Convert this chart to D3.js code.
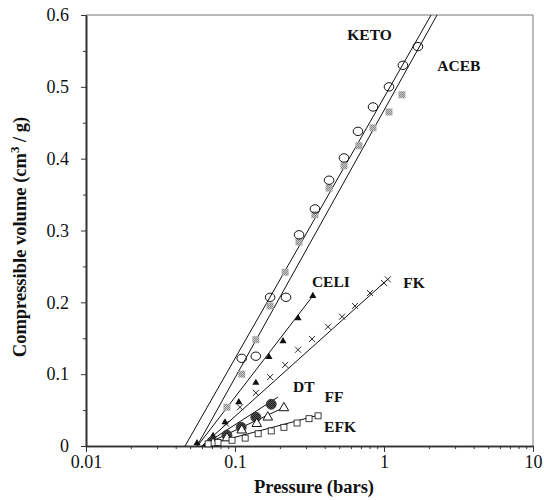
<!DOCTYPE html>
<html>
<head>
<meta charset="utf-8">
<script src="https://cdn.jsdelivr.net/npm/d3@7"></script>
<style>
  body { margin: 0; background: #fff; }
  svg text { font-family: "Liberation Serif", "Times New Roman", serif; fill: #111; }
  .tick-label { font-size: 18px; }
  .series-label { font-size: 15.5px; font-weight: bold; }
  .axis-title { font-size: 18.5px; font-weight: bold; }
</style>
</head>
<body>
<div id="chart"></div>
<script>
// measured points: pressure (bars) and compressible volume (cm3/g)
var ketoP = [0.111, 0.138, 0.172, 0.220, 0.269, 0.344, 0.428, 0.539, 0.669, 0.844, 1.08, 1.34, 1.69];
var ketoV = [0.122, 0.125, 0.207, 0.207, 0.294, 0.330, 0.370, 0.401, 0.438, 0.472, 0.500, 0.530, 0.556];

var acebP = [0.0883, 0.111, 0.138, 0.172, 0.217, 0.269, 0.344, 0.428, 0.539, 0.679, 0.844, 1.08, 1.32];
var acebV = [0.054, 0.100, 0.148, 0.195, 0.242, 0.284, 0.322, 0.359, 0.390, 0.418, 0.443, 0.465, 0.489];

var celiP = [0.0556, 0.0712, 0.0857, 0.106, 0.138, 0.169, 0.210, 0.265, 0.333];
var celiV = [0.004, 0.014, 0.033, 0.061, 0.088, 0.124, 0.146, 0.178, 0.209];

var fkP = [0.069, 0.0871, 0.108, 0.138, 0.172, 0.217, 0.265, 0.329, 0.421, 0.523, 0.639, 0.805, 1.0, 1.06];
var fkV = [0.007, 0.031, 0.054, 0.074, 0.096, 0.113, 0.134, 0.149, 0.166, 0.180, 0.195, 0.213, 0.227, 0.232];

var dtP = [0.0701, 0.0883, 0.110, 0.138, 0.175];
var dtV = [0.006, 0.015, 0.026, 0.040, 0.058];

var ffP = [0.0712, 0.0883, 0.111, 0.140, 0.166, 0.213];
var ffV = [0.004, 0.011, 0.022, 0.031, 0.040, 0.053];

var efkP = [0.066, 0.0769, 0.0955, 0.117, 0.143, 0.175, 0.213, 0.261, 0.314, 0.361];
var efkV = [0.003, 0.005, 0.008, 0.011, 0.017, 0.021, 0.026, 0.032, 0.038, 0.042];

// fitted lines: [start pressure, start volume, end pressure, end volume]
var ketoFit = [0.0462, 0, 2.07, 0.6];
var acebFit = [0.0556, 0, 2.27, 0.6];
var celiFit = [0.056, 0, 0.333, 0.209];
var fkFit   = [0.060, 0, 1.06, 0.232];
var dtFit   = [0.060, 0, 0.194, 0.068];
var ffFit   = [0.060, 0, 0.22, 0.055];
var efkFit  = [0.060, 0, 0.38, 0.044];

var seriesNames = ["KETO", "ACEB", "CELI", "FK", "DT", "FF", "EFK"];
var labelPos = [[0.8, 0.565], [3.18, 0.522], [0.44, 0.221], [1.59, 0.220], [0.29, 0.075], [0.461, 0.061], [0.507, 0.0195]];

var xTickValues = [0.01, 0.1, 1, 10];
var xTickLabels = ["0.01", "0.1", "1", "10"];
var yTickValues = [0, 0.1, 0.2, 0.3, 0.4, 0.5, 0.6];
var yTickLabels = ["0", "0.1", "0.2", "0.3", "0.4", "0.5", "0.6"];

function chart() {
    var width = 544, height = 500;
    var svg = d3.select("#chart").append("svg")
        .attr("width", width)
        .attr("height", height);

    var xScale = d3.scaleLog().domain([0.01, 10]).range([86, 533]);
    var yScale = d3.scaleLinear().domain([0, 0.6]).range([446, 15]);

    // hatched grey fill for ACEB squares
    var defs = svg.append("defs");
    var pat = defs.append("pattern")
        .attr("id", "hatch")
        .attr("width", 2).attr("height", 2)
        .attr("patternUnits", "userSpaceOnUse");
    pat.append("rect").attr("width", 2).attr("height", 2).attr("fill", "#c8c8c8");
    pat.append("rect").attr("width", 1).attr("height", 1).attr("fill", "#8a8a8a");
    pat.append("rect").attr("x", 1).attr("y", 1).attr("width", 1).attr("height", 1).attr("fill", "#8a8a8a");

    var patD = defs.append("pattern")
        .attr("id", "hatchDark")
        .attr("width", 2).attr("height", 2)
        .attr("patternUnits", "userSpaceOnUse");
    patD.append("rect").attr("width", 2).attr("height", 2).attr("fill", "#555");
    patD.append("rect").attr("width", 1).attr("height", 1).attr("fill", "#222");
    patD.append("rect").attr("x", 1).attr("y", 1).attr("width", 1).attr("height", 1).attr("fill", "#222");

    // frame (top and right)
    svg.append("path")
        .attr("d", "M" + xScale(0.01) + "," + yScale(0.6) + "H" + xScale(10) + "V" + yScale(0))
        .attr("fill", "none")
        .attr("stroke", "#777")
        .attr("stroke-width", 1);

    // x axis
    var xMinor = [];
    [0.01, 0.1, 1].forEach(function(d) {
        for (var k = 2; k <= 9; k++) xMinor.push(d * k);
    });
    var xAxis = svg.append("g")
        .attr("transform", "translate(0," + yScale(0) + ")");
    xAxis.call(d3.axisBottom(xScale).tickValues(xMinor).tickSize(3).tickFormat("").tickSizeOuter(0));
    xAxis.append("g").call(d3.axisBottom(xScale).tickValues(xTickValues).tickSize(6).tickSizeOuter(0)
        .tickFormat(function(d, i) { return xTickLabels[i]; }));
    xAxis.selectAll("path.domain").attr("stroke", "#333").attr("stroke-width", 1.6);
    xAxis.selectAll("line").attr("stroke", "#333");
    xAxis.selectAll("text")
        .attr("class", "tick-label")
        .attr("font-size", null)
        .attr("font-family", null)
        .attr("dy", "0.95em")
        .attr("y", 5);

    // y axis
    var yMinor = [0.05, 0.15, 0.25, 0.35, 0.45, 0.55];
    var yAxis = svg.append("g")
        .attr("transform", "translate(" + xScale(0.01) + ",0)");
    yAxis.call(d3.axisLeft(yScale).tickValues(yMinor).tickSize(3).tickFormat("").tickSizeOuter(0));
    yAxis.append("g").call(d3.axisLeft(yScale).tickValues(yTickValues).tickSize(5).tickSizeOuter(0)
        .tickFormat(function(d, i) { return yTickLabels[i]; }));
    yAxis.selectAll("path.domain").attr("stroke", "#333").attr("stroke-width", 1.6);
    yAxis.selectAll("line").attr("stroke", "#333");
    yAxis.selectAll("text")
        .attr("class", "tick-label")
        .attr("font-size", null)
        .attr("font-family", null)
        .attr("x", -17);

    // axis titles
    svg.append("text")
        .attr("class", "axis-title")
        .attr("x", 314)
        .attr("y", 493)
        .attr("text-anchor", "middle")
        .text("Pressure (bars)");

    var yt = svg.append("text")
        .attr("class", "axis-title")
        .attr("text-anchor", "middle")
        .attr("transform", "translate(26,237) rotate(-90)");
    yt.append("tspan").text("Compressible volume (cm");
    yt.append("tspan").attr("dy", -7).attr("font-size", 13).text("3");
    yt.append("tspan").attr("dy", 7).text(" / g)");

    // fit lines
    var line = d3.line().x(d => xScale(d[0])).y(d => yScale(d[1]));
    [ketoFit, acebFit, celiFit, fkFit, dtFit, ffFit, efkFit].forEach(function(f) {
        svg.append("path")
            .datum([[f[0], f[1]], [f[2], f[3]]])
            .attr("d", line)
            .attr("fill", "none")
            .attr("stroke", "#111")
            .attr("stroke-width", 1);
    });

    function pts(P, V) { return P.map((p, i) => [p, V[i]]); }

    // ACEB: hatched grey squares
    svg.append("g").selectAll("rect")
        .data(pts(acebP, acebV)).enter().append("rect")
        .attr("x", d => xScale(d[0]) - 3.5)
        .attr("y", d => yScale(d[1]) - 3.5)
        .attr("width", 7).attr("height", 7)
        .attr("fill", "url(#hatch)");

    // KETO: open circles
    svg.append("g").selectAll("ellipse")
        .data(pts(ketoP, ketoV)).enter().append("ellipse")
        .attr("cx", d => xScale(d[0]))
        .attr("cy", d => yScale(d[1]))
        .attr("rx", 4.8).attr("ry", 4.2)
        .attr("fill", "none")
        .attr("stroke", "#111")
        .attr("stroke-width", 1);

    var tri = d3.symbol().type(d3.symbolTriangle);

    // CELI: filled triangles
    svg.append("g").selectAll("path")
        .data(pts(celiP, celiV)).enter().append("path")
        .attr("transform", d => "translate(" + xScale(d[0]) + "," + yScale(d[1]) + ")")
        .attr("d", tri.size(22)())
        .attr("fill", "#111");

    // FK: crosses
    svg.append("g").selectAll("path")
        .data(pts(fkP, fkV)).enter().append("path")
        .attr("transform", d => "translate(" + xScale(d[0]) + "," + yScale(d[1]) + ")")
        .attr("d", "M-3,-3L3,3M-3,3L3,-3")
        .attr("stroke", "#111")
        .attr("stroke-width", 0.9);

    // DT: dark filled circles
    svg.append("g").selectAll("circle")
        .data(pts(dtP, dtV)).enter().append("circle")
        .attr("cx", d => xScale(d[0]))
        .attr("cy", d => yScale(d[1]))
        .attr("r", 5)
        .attr("fill", "url(#hatchDark)")
        .attr("stroke", "#333")
        .attr("stroke-width", 0.8);

    // FF: open triangles
    svg.append("g").selectAll("path")
        .data(pts(ffP, ffV)).enter().append("path")
        .attr("transform", d => "translate(" + xScale(d[0]) + "," + yScale(d[1]) + ")")
        .attr("d", tri.size(40)())
        .attr("fill", "#fff")
        .attr("stroke", "#111")
        .attr("stroke-width", 1);

    // EFK: open squares
    svg.append("g").selectAll("rect")
        .data(pts(efkP, efkV)).enter().append("rect")
        .attr("x", d => xScale(d[0]) - 3)
        .attr("y", d => yScale(d[1]) - 3)
        .attr("width", 6).attr("height", 6)
        .attr("fill", "#fff")
        .attr("stroke", "#111")
        .attr("stroke-width", 0.8);

    // series labels
    svg.append("g").selectAll("text")
        .data(seriesNames).enter().append("text")
        .attr("class", "series-label")
        .attr("x", (d, i) => xScale(labelPos[i][0]))
        .attr("y", (d, i) => yScale(labelPos[i][1]))
        .attr("text-anchor", "middle")
        .text(d => d);
}

chart();
</script>
</body>
</html>
